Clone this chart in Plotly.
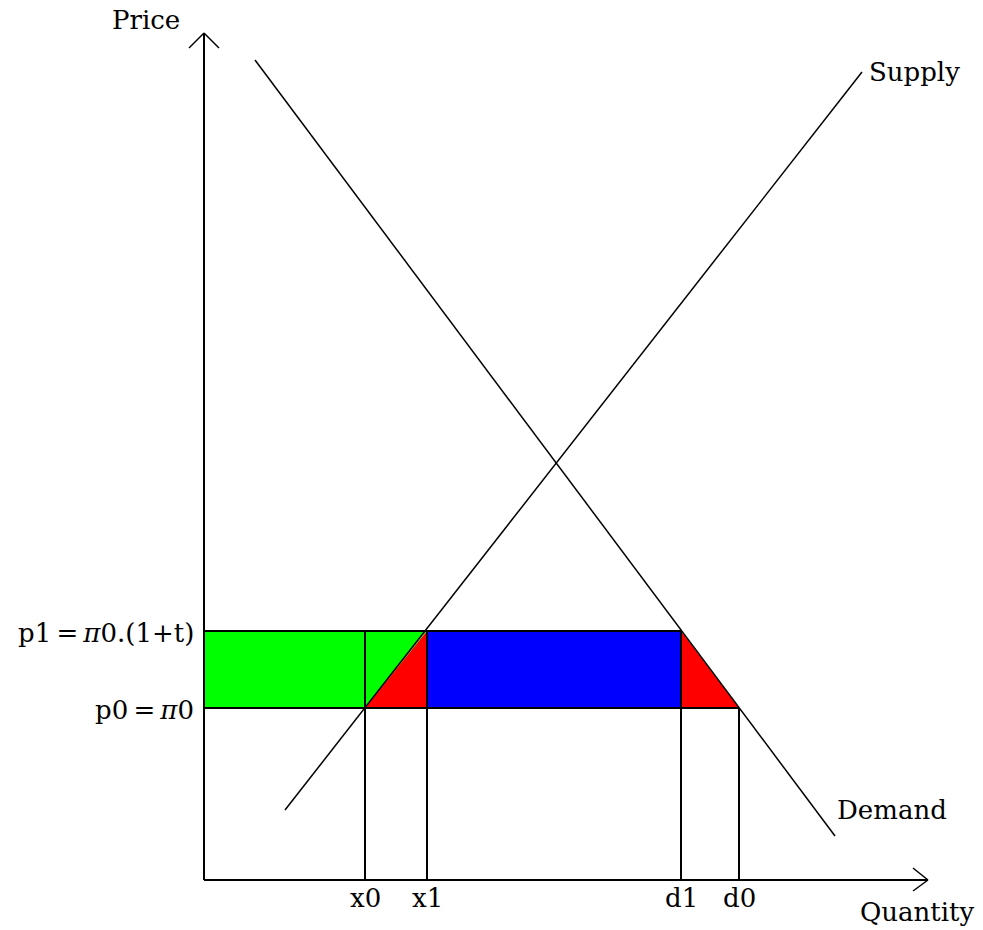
import plotly.graph_objects as go

# ---- data (quantity / price units) ----
supply_q = [8.1, 65.8]
supply_p = [7.0, 80.8]
demand_q = [5.1, 63.1]
demand_p = [82.0, 4.4]

x0, x1, d1, d0 = 16.1, 22.3, 47.7, 53.5
p0, p1 = 17.2, 24.9

q_tick_values = [x0, x1, d1, d0]
q_tick_labels = ["x0", "x1", "d1", "d0"]
p_tick_values = [p1, p0]
p_tick_labels = ["p1\u2009=\u2009<i>π</i>0.(1+t)", "p0\u2009=\u2009<i>π</i>0"]

q_axis_max = 72.4
p_axis_max = 84.7

GREEN = "#00FF00"
RED = "#FF0000"
BLUE = "#0000FF"
FONT = dict(family="DejaVu Serif", size=26, color="black")

fig = go.Figure()

def poly(xs, ys, color):
    fig.add_trace(go.Scatter(x=xs, y=ys, fill="toself", fillcolor=color,
                             mode="lines", line=dict(width=0), hoverinfo="skip",
                             showlegend=False))

# coloured areas
poly([0, 0, x1, x0], [p0, p1, p1, p0], GREEN)
poly([x0, x1, x1], [p0, p1, p0], RED)
poly([x1, x1, d1, d1], [p0, p1, p1, p0], BLUE)
poly([d1, d1, d0], [p0, p1, p0], RED)

def seg(xs, ys, w=2):
    fig.add_trace(go.Scatter(x=xs, y=ys, mode="lines",
                             line=dict(color="black", width=w),
                             hoverinfo="skip", showlegend=False))

# box outlines
seg([0, d1], [p1, p1])
seg([0, d0], [p0, p0])
for q in [x0, x1, d1]:
    seg([q, q], [p1, 0])
seg([d0, d0], [p0, 0])

# supply and demand
seg(supply_q, supply_p, 1.5)
seg(demand_q, demand_p, 1.5)

# axes
seg([0, q_axis_max], [0, 0], 2)
seg([0, 0], [0, p_axis_max], 2)

# arrow heads as pixel-sized shapes anchored at the axis ends
for (dx, dy) in [(-15, -15), (15, -15)]:
    fig.add_shape(type="line", xref="x", yref="y", xsizemode="pixel", ysizemode="pixel",
                  xanchor=0, yanchor=p_axis_max, x0=0, y0=0, x1=dx, y1=dy,
                  line=dict(color="black", width=1.5))
for (dx, dy) in [(-15, 12), (-15, -11)]:
    fig.add_shape(type="line", xref="x", yref="y", xsizemode="pixel", ysizemode="pixel",
                  xanchor=q_axis_max, yanchor=0, x0=0, y0=0, x1=dx, y1=dy,
                  line=dict(color="black", width=1.5))

# labels
for v, t in zip(q_tick_values, q_tick_labels):
    fig.add_annotation(x=v, y=-1.8, text=t, showarrow=False, font=FONT,
                       xanchor="center", yanchor="middle")
for v, t in zip(p_tick_values, p_tick_labels):
    fig.add_annotation(x=-0.8, y=v, text=t, showarrow=False, font=FONT,
                       xanchor="right", yanchor="middle", yshift=-2)

fig.add_annotation(x=-2.2, y=86.0, text="Price", showarrow=False, font=FONT,
                   xanchor="right", yanchor="middle")
fig.add_annotation(x=supply_q[1], y=supply_p[1], text="Supply", showarrow=False, font=FONT,
                   xanchor="left", yanchor="middle", xshift=5)
fig.add_annotation(x=demand_q[1], y=demand_p[1], text="Demand", showarrow=False, font=FONT,
                   xanchor="left", yanchor="middle", xshift=0, yshift=26)
fig.add_annotation(x=65.4, y=-3.2, text="Quantity", showarrow=False, font=FONT,
                   xanchor="left", yanchor="middle")

fig.update_layout(
    width=983, height=930,
    margin=dict(l=0, r=0, t=0, b=0),
    plot_bgcolor="white", paper_bgcolor="white",
    xaxis=dict(range=[-20.4, 77.9], visible=False, fixedrange=True),
    yaxis=dict(range=[-5.0, 88.0], visible=False, fixedrange=True),
    showlegend=False,
)

fig.write_html("out.html", config={"displayModeBar": False},
               post_script="document.body.style.margin='0';document.body.style.overflow='hidden';")
